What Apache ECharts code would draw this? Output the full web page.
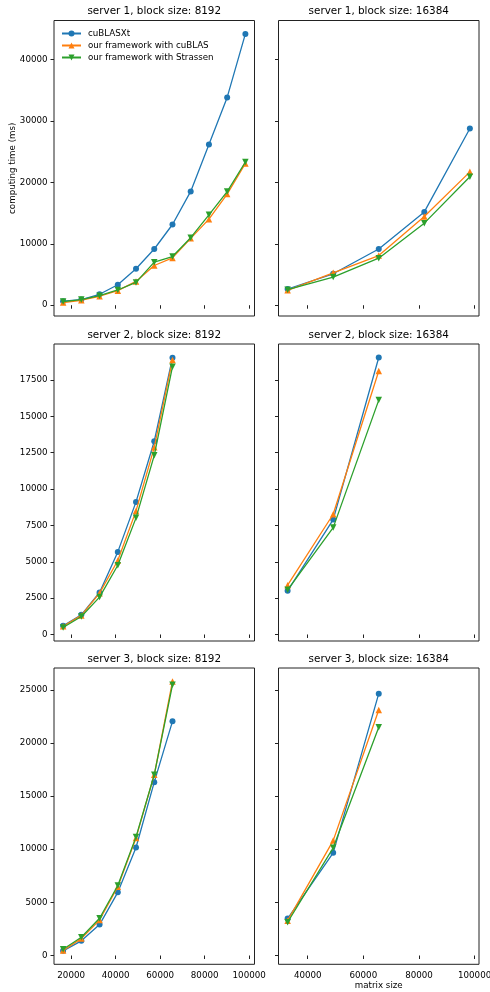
<!DOCTYPE html>
<html>
<head>
<meta charset="utf-8">
<script src="https://cdn.jsdelivr.net/npm/echarts@6/dist/echarts.min.js"></script>
<style>
html,body{margin:0;padding:0;background:#fff;}
#chart{width:490px;height:992px;}
</style>
</head>
<body>
<div id="chart"></div>
<script>
// ---- data ----
const seriesNames = ['cuBLASXt', 'our framework with cuBLAS', 'our framework with Strassen'];
const titles = ['server 1, block size: 8192', 'server 1, block size: 16384',
                'server 2, block size: 8192', 'server 2, block size: 16384',
                'server 3, block size: 8192', 'server 3, block size: 16384'];

const xsB8_s1 = [16384, 24576, 32768, 40960, 49152, 57344, 65536, 73728, 81920, 90112, 98304];
const xsB8 = [16384, 24576, 32768, 40960, 49152, 57344, 65536];
const xsB16_s1 = [32768, 49152, 65536, 81920, 98304];
const xsB16 = [32768, 49152, 65536];

const s1b8_xt = [650, 920, 1780, 3340, 5930, 9160, 13150, 18540, 26200, 33860, 44200];
const s1b8_cu = [430, 810, 1460, 2370, 3880, 6470, 7710, 10890, 14020, 18100, 23100];
const s1b8_st = [590, 920, 1560, 2480, 3720, 7010, 7930, 11000, 14720, 18520, 23330];

const s1b16_xt = [2640, 5120, 9160, 15200, 28790];
const s1b16_cu = [2430, 5280, 8090, 14450, 21730];
const s1b16_st = [2530, 4580, 7660, 13370, 20920];

const s2b8_xt = [600, 1350, 2890, 5680, 9120, 13290, 19030];
const s2b8_cu = [570, 1310, 2840, 5090, 8500, 12870, 18870];
const s2b8_st = [480, 1240, 2570, 4760, 8020, 12320, 18420];

const s2b16_xt = [3000, 7900, 19050];
const s2b16_cu = [3390, 8270, 18120];
const s2b16_st = [3070, 7350, 16120];

const s3b8_xt = [440, 1380, 2910, 5940, 10160, 16310, 22030];
const s3b8_cu = [470, 1590, 3340, 6470, 11060, 17000, 25780];
const s3b8_st = [590, 1720, 3500, 6590, 11160, 17000, 25470];

const s3b16_xt = [3470, 9660, 24630];
const s3b16_cu = [3280, 10810, 23090];
const s3b16_st = [3130, 10130, 21470];

const xTicksLeft = [20000, 40000, 60000, 80000, 100000];
const xTicksRight = [40000, 60000, 80000, 100000];
const yTicksRow1 = [0, 10000, 20000, 30000, 40000];
const yTicksRow2 = [0, 2500, 5000, 7500, 10000, 12500, 15000, 17500];
const yTicksRow3 = [0, 5000, 10000, 15000, 20000, 25000];

// ---- panels ----
const panels = [
  {xs: xsB8_s1, ys: [s1b8_xt, s1b8_cu, s1b8_st]},
  {xs: xsB16_s1, ys: [s1b16_xt, s1b16_cu, s1b16_st]},
  {xs: xsB8, ys: [s2b8_xt, s2b8_cu, s2b8_st]},
  {xs: xsB16, ys: [s2b16_xt, s2b16_cu, s2b16_st]},
  {xs: xsB8, ys: [s3b8_xt, s3b8_cu, s3b8_st]},
  {xs: xsB16, ys: [s3b16_xt, s3b16_cu, s3b16_st]}
];
const rowYTicks = [yTicksRow1, yTicksRow2, yTicksRow3];
const colXTicks = [xTicksLeft, xTicksRight];

// ---- layout / style ----
const FONT = 'DejaVu Sans';
const colLeft = [54, 278.5];
const colWidth = [200.5, 200.5];
const rowTop = [20.5, 344, 668];
const rowHeight = [295.5, 297, 296.3];
const colors = ['#1f77b4', '#ff7f0e', '#2ca02c'];
const symbols = ['circle', 'triangle', 'triangle'];
const rotates = [0, 0, 180];
const AX = '#222';

function margins(arrs) {
  let mn = Infinity, mx = -Infinity;
  arrs.forEach(a => a.forEach(v => { mn = Math.min(mn, v); mx = Math.max(mx, v); }));
  const m = (mx - mn) * 0.05;
  return [mn - m, mx + m];
}

// column x ranges (shared per column), row y ranges (shared per row)
const colRange = [0, 1].map(c => margins(panels.filter((p, i) => i % 2 === c).map(p => p.xs)));
const rowRange = [0, 1, 2].map(r => margins([].concat(panels[2 * r].ys, panels[2 * r + 1].ys)));

const grids = [], xAxes = [], yAxes = [], series = [], graphics = [];
panels.forEach((p, i) => {
  const r = Math.floor(i / 2), c = i % 2;
  grids.push({left: colLeft[c], top: rowTop[r], width: colWidth[c], height: rowHeight[r],
    show: true, borderColor: AX, borderWidth: 1, backgroundColor: 'transparent',
    containLabel: false, outerBoundsMode: 'none'});
  xAxes.push({type: 'value', gridIndex: i, min: colRange[c][0], max: colRange[c][1],
    axisLine: {show: false}, splitLine: {show: false},
    axisTick: {show: true, length: 3.5, inside: false, customValues: colXTicks[c], lineStyle: {color: AX, width: 1}},
    axisLabel: {show: r === 2, customValues: colXTicks[c], margin: 6.5, color: '#000',
      fontFamily: FONT, fontSize: 8.7, formatter: v => String(v)}
  });
  yAxes.push({type: 'value', gridIndex: i, min: rowRange[r][0], max: rowRange[r][1],
    axisLine: {show: false}, splitLine: {show: false},
    axisTick: {show: true, length: 3.5, inside: false, customValues: rowYTicks[r], lineStyle: {color: AX, width: 1}},
    axisLabel: {show: c === 0, customValues: rowYTicks[r], margin: 6.5, color: '#000',
      fontFamily: FONT, fontSize: 8.7, formatter: v => String(v)}
  });
  p.ys.forEach((ys, k) => {
    series.push({
      type: 'line', name: seriesNames[k], xAxisIndex: i, yAxisIndex: i,
      data: p.xs.map((x, j) => [x, ys[j]]),
      symbol: symbols[k], symbolRotate: rotates[k], symbolSize: k === 0 ? 6 : 6.5,
      showSymbol: true, clip: false,
      lineStyle: {color: colors[k], width: 1.3},
      itemStyle: {color: colors[k], borderWidth: 0},
      emphasis: {disabled: true}, z: 2 + k
    });
  });
  graphics.push({type: 'text', x: colLeft[c] + colWidth[c] / 2, y: rowTop[r] - 9,
    style: {text: titles[i], fill: '#000', font: '10.4px "' + FONT + '"', textAlign: 'center', textVerticalAlign: 'middle'}});
});

graphics.push({type: 'text', x: 13, y: rowTop[0] + rowHeight[0] / 2, rotation: Math.PI / 2,
  style: {text: 'computing time (ms)', fill: '#000', font: '8.7px "' + FONT + '"', textAlign: 'center', textVerticalAlign: 'middle'}});
graphics.push({type: 'text', x: colLeft[1] + colWidth[1] / 2, y: 986,
  style: {text: 'matrix size', fill: '#000', font: '8.7px "' + FONT + '"', textAlign: 'center', textVerticalAlign: 'middle'}});

const chart = echarts.init(document.getElementById('chart'), null, {renderer: 'canvas'});
chart.setOption({
  animation: false,
  backgroundColor: '#fff',
  grid: grids, xAxis: xAxes, yAxis: yAxes, series: series,
  legend: {
    data: seriesNames, orient: 'vertical', left: 61, top: 29, padding: 0,
    itemWidth: 19, itemHeight: 7.5, itemGap: 3,
    textStyle: {fontFamily: FONT, fontSize: 8.7, color: '#000', padding: [0, 0, 0, 2]},
    selectedMode: false
  },
  graphic: graphics
});
</script>
</body>
</html>
